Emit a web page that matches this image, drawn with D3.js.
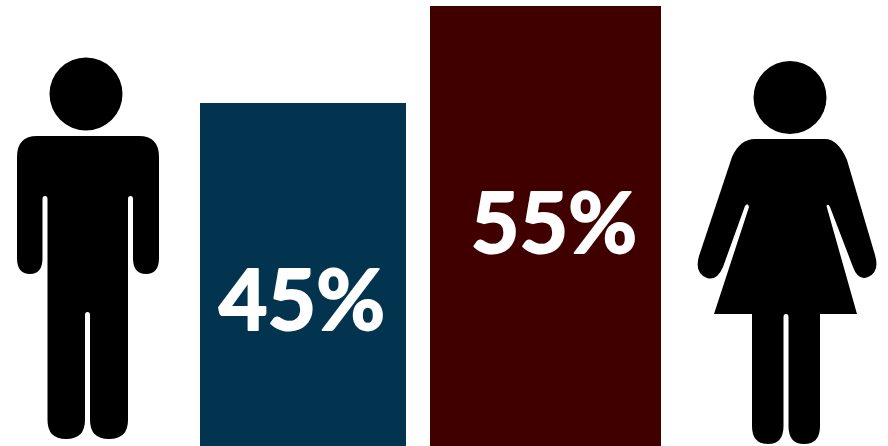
<!DOCTYPE html>
<html>
<head>
<meta charset="utf-8">
<script src="https://cdn.jsdelivr.net/npm/d3@7"></script>
<style>
html,body{margin:0;padding:0;background:#fff;overflow:hidden}
svg{display:block}
</style>
</head>
<body>
<svg id="chart" width="888" height="446"></svg>
<script>
// Share of each group
const categories = ['Men','Women'];
const shares = [45,55];
const barColors = ['#02344f','#400000'];
const shareLabels = ['45%','55%'];

const W = 888, H = 446;
const svg = d3.select('#chart');

// blur filter, the icons in the original are soft scaled bitmaps
svg.append('defs').append('filter').attr('id','soft')
  .append('feGaussianBlur').attr('stdDeviation',0.7);

// the bars run off the bottom of the picture, so the zero line is below the frame
const y = d3.scaleLinear().domain([0,55]).range([539.5,6]);
const x = d3.scalePoint().domain(categories).range([303,545.5]);
const barW = d3.scaleLinear().domain([45,55]).range([206,231]);
const labelX = d3.scaleOrdinal().domain(categories).range([302,554]);
const labelY = d3.scaleOrdinal().domain(categories).range([330,253]);

const bars = categories.map((c,i)=>({cat:c, v:shares[i], color:barColors[i], label:shareLabels[i]}));

svg.selectAll('rect.bar').data(bars).join('rect')
  .attr('class','bar')
  .attr('x',d=>x(d.cat)-barW(d.v)/2)
  .attr('y',d=>y(d.v))
  .attr('width',d=>barW(d.v))
  .attr('height',d=>H-y(d.v))
  .attr('fill',d=>d.color);

// Lato bold plus a thin outline, closest to the heavy label face
svg.selectAll('text.share').data(bars).join('text')
  .attr('class','share')
  .attr('x',d=>labelX(d.cat))
  .attr('y',d=>labelY(d.cat))
  .attr('text-anchor','middle')
  .attr('font-family','Lato, sans-serif')
  .attr('font-weight',700)
  .attr('font-size',84)
  .attr('fill','#fff')
  .attr('stroke','#fff')
  .attr('stroke-width',2)
  .attr('stroke-linejoin','round')
  .text(d=>d.label);

/* ===== pictograms ===== */
const manBody = 'M37,136 L139,136 Q159,136 159,157 L159,258 Q159,274 146,274 Q133,274 133,258 L133,199 Q133,196 130.5,196 Q128,196 128,199 L128,420 Q128,439 109,439 Q90,439 90,420 L90,315 Q90,312 87.5,312 Q85,312 85,315 L85,420 Q85,439 66,439 Q47.5,439 47.5,420 L47.5,199 Q47.5,196 45,196 Q42.5,196 42.5,199 L42.5,258 Q42.5,274 30,274 Q17,274 17,258 L17,157 Q17,136 37,136 Z';
const womanBody = 'M755,139 L825,139 Q838,139 847,160 L875,255 Q880,272 868,277 Q858,281 853,267 L830,207 Q828,203 826.5,206 L857,314 L820,314 L820,426 Q820,444 804,444 Q788.5,444 788.5,426 L788.5,317 Q788.5,314 786,314 Q783.5,314 783.5,317 L783.5,426 Q783.5,444 768,444 Q752,444 752,426 L752,314 L714,314 L749,207 Q748,202 745,206 L723,267 Q717,281 707,278 Q694,273 699,256 L732,157 Q740,139 755,139 Z';

const gIcons = svg.append('g').attr('filter','url(#soft)').attr('fill','#000');
gIcons.append('circle').attr('cx',86).attr('cy',94).attr('r',36.5);
gIcons.append('path').attr('d',manBody);
gIcons.append('circle').attr('cx',790).attr('cy',97.5).attr('r',36.5);
gIcons.append('path').attr('d',womanBody);
</script>
</body>
</html>
